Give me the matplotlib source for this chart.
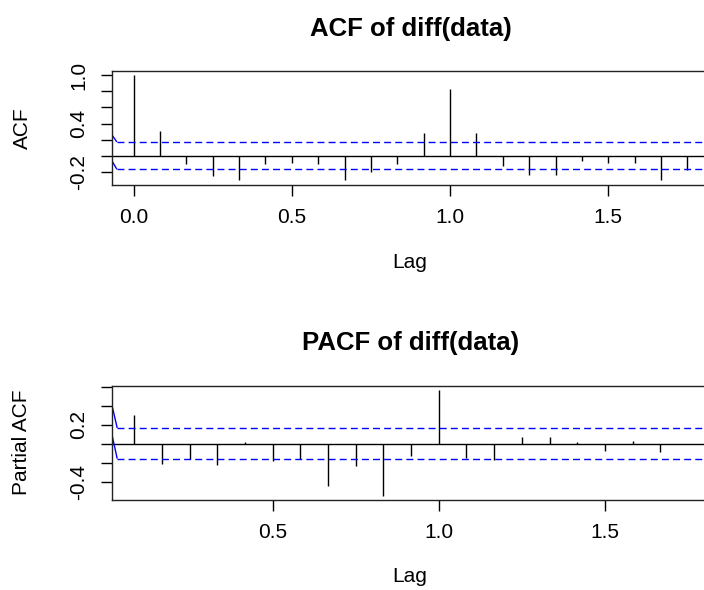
import numpy as np
import matplotlib
matplotlib.use("Agg")
import matplotlib.pyplot as plt

plt.rcParams['font.family'] = ['Liberation Sans', 'DejaVu Sans']

# ACF 数据 (lag 以月为单位, 画图时换算成年)
acf_lag_months = [0, 1, 2, 3, 4, 5, 6, 7, 8, 9, 10, 11, 12, 13, 14, 15, 16, 17, 18, 19, 20, 21]
acf_values = [1.00, 0.31, -0.10, -0.24, -0.30, -0.10, -0.09, -0.10, -0.30, -0.20, -0.10,
              0.28, 0.83, 0.28, -0.12, -0.23, -0.23, -0.06, -0.08, -0.09, -0.30, -0.17]
acf_ci = [0.174, -0.163]
acf_edge_start = [0.27, -0.05]   # 左边蓝线起点

# PACF 数据
pacf_lag_months = [1, 2, 3, 4, 5, 6, 7, 8, 9, 10, 11, 12, 13, 14, 15, 16, 17, 18, 19, 20, 21]
pacf_values = [0.30, -0.21, -0.16, -0.22, 0.015, -0.185, -0.16, -0.45, -0.235, -0.55, -0.13,
               0.57, -0.15, -0.175, 0.067, 0.067, 0.015, -0.077, 0.033, -0.09, 0.0]
pacf_ci = [0.165, -0.158]
pacf_edge_start = [0.425, 0.116]

W, H = 704, 590
fig = plt.figure(figsize=(W / 100, H / 100), dpi=100)


def px_rect(left, top, right, bottom):
    return [left / W, 1 - bottom / H, (right - left) / W, (bottom - top) / H]


def draw_panel(ax, lags, vals, ci, edge_start, edge_end_x, xlim, ylim,
               yticks, ylabels, xticks, xlabels):
    ax.set_xlim(*xlim)
    ax.set_ylim(*ylim)
    ax.vlines(lags, 0, vals, colors='black', lw=1.0)
    ax.axhline(0, color='black', lw=1.0)
    for c, s in zip(ci, edge_start):
        ax.plot([xlim[0], edge_end_x], [s, c], color='blue', lw=1.0, solid_capstyle='butt')
        ax.plot([edge_end_x, xlim[1]], [c, c], color='blue', lw=1.0, dashes=(5, 3))
    ax.set_yticks(yticks)
    ax.set_yticklabels(ylabels, rotation=90, va='center')
    ax.set_xticks(xticks)
    ax.set_xticklabels(xlabels)
    ax.tick_params(axis='both', direction='out', length=8, width=1.0, labelsize=15,
                   color='black')
    ax.tick_params(axis='x', pad=9)
    ax.tick_params(axis='y', pad=9)
    for sp in ax.spines.values():
        sp.set_linewidth(1.0)
        sp.set_color('#222222')


# ---- ACF ----
ax1 = fig.add_axes(px_rect(111.5, 71, 709.5, 184.7))
draw_panel(ax1, np.array(acf_lag_months) / 12, acf_values, acf_ci, acf_edge_start, -0.053,
           (-0.07, 1.82), (-0.353, 1.05),
           [-0.2, 0.0, 0.2, 0.4, 0.6, 0.8, 1.0], ['-0.2', '', '', '0.4', '', '', '1.0'],
           [0.0, 0.5, 1.0, 1.5], ['0.0', '0.5', '1.0', '1.5'])
fig.text(411 / W, 1 - 29 / H, 'ACF of diff(data)', ha='center', va='center',
         fontsize=18.5, fontweight='bold')
fig.text(410 / W, 1 - 262 / H, 'Lag', ha='center', va='center', fontsize=15)
fig.text(22 / W, 1 - 128 / H, 'ACF', ha='center', va='center', rotation=90, fontsize=15)

# ---- PACF ----
ax2 = fig.add_axes(px_rect(111.5, 385.7, 709.5, 499.7))
draw_panel(ax2, np.array(pacf_lag_months) / 12, pacf_values, pacf_ci, pacf_edge_start, 0.032,
           (0.0148, 1.8148), (-0.59, 0.61),
           [-0.4, -0.2, 0.0, 0.2, 0.4, 0.6], ['-0.4', '', '', '0.2', '', ''],
           [0.5, 1.0, 1.5], ['0.5', '1.0', '1.5'])
fig.text(411 / W, 1 - 343 / H, 'PACF of diff(data)', ha='center', va='center',
         fontsize=18.5, fontweight='bold')
fig.text(410 / W, 1 - 577 / H, 'Lag', ha='center', va='center', fontsize=15)
fig.text(22 / W, 1 - 442 / H, 'Partial ACF', ha='center', va='center', rotation=90, fontsize=15)

fig.savefig('out.png', dpi=100)
